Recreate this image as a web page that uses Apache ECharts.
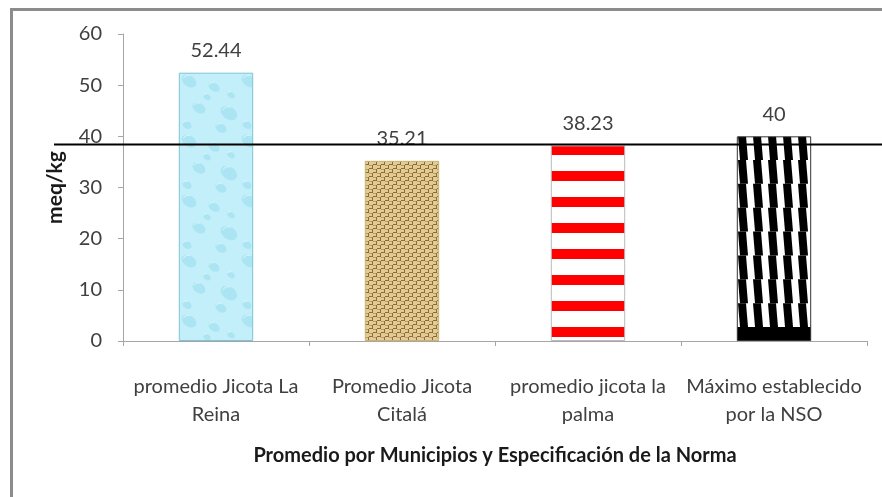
<!DOCTYPE html>
<html>
<head>
<meta charset="utf-8">
<script src="https://cdn.jsdelivr.net/npm/echarts@6/dist/echarts.min.js"></script>
<style>
html,body{margin:0;padding:0;background:#fff;}
#chart{width:882px;height:497px;}
</style>
</head>
<body>
<div id="chart"></div>
<script>
// ---- data ----
var categories = ['promedio Jicota La\nReina', 'Promedio Jicota\nCitalá', 'promedio jicota la\npalma', 'Máximo establecido\npor la NSO'];
var values = [52.44, 35.21, 38.23, 40];
var valueLabels = ['52.44', '35.21', '38.23', '40'];
var yTicks = [0, 10, 20, 30, 40, 50, 60];
var referenceLineValue = 38.4; // hand-drawn horizontal line in the original
var xTitle = 'Promedio por Municipios y Especificación de la Norma';
var yTitle = 'meq/kg';

// ---- patterns ----
function makeCanvas(w, h) { var c = document.createElement('canvas'); c.width = w; c.height = h; return c; }

function waterPattern() {
  var c = makeCanvas(60, 60), g = c.getContext('2d');
  g.fillStyle = '#c2eff9'; g.fillRect(0, 0, 60, 60);
  var blobs = [[10,8,8],[35,14,6],[50,40,9],[20,35,7],[8,52,5],[42,55,6],[28,24,4],[52,22,4]];
  blobs.forEach(function (b) {
    g.fillStyle = 'rgba(120,205,228,0.30)';
    g.beginPath(); g.ellipse(b[0], b[1], b[2], b[2] * 0.7, 0.6, 0, Math.PI * 2); g.fill();
    g.strokeStyle = 'rgba(235,252,255,0.7)'; g.lineWidth = 1;
    g.beginPath(); g.arc(b[0] - 1, b[1] - 1, b[2] * 0.6, 3.5, 5.2); g.stroke();
  });
  return c;
}
function wovenPattern() {
  var c = makeCanvas(8, 8), g = c.getContext('2d');
  g.fillStyle = '#e2cc92'; g.fillRect(0, 0, 8, 8);
  g.fillStyle = '#8a6a38';
  g.fillRect(0, 3, 4, 1); g.fillRect(4, 7, 4, 1);
  g.fillRect(3, 0, 1, 4); g.fillRect(7, 4, 1, 4);
  g.fillStyle = '#bb9c5e';
  g.fillRect(0, 0, 3, 1); g.fillRect(4, 4, 3, 1);
  return c;
}
function stripePattern() {
  var c = makeCanvas(10, 26), g = c.getContext('2d');
  g.fillStyle = '#ffffff'; g.fillRect(0, 0, 10, 26);
  g.fillStyle = '#ff0000'; g.fillRect(0, 0, 10, 10);
  return c;
}
// zigzag tile as tall as the bar: 8 rows of slanted stripes + a solid black base band
function zigzagPattern(barH) {
  var h = Math.max(30, Math.ceil(barH) + 2);
  var band = 14, rows = 8, rowH = (h - 2 - band) / rows;
  var c = makeCanvas(15, h), g = c.getContext('2d');
  g.fillStyle = '#ffffff'; g.fillRect(0, 0, 15, h);
  g.fillStyle = '#000000';
  for (var r = 0; r < rows; r++) {
    var y0 = r * rowH, y1 = (r + 1) * rowH;
    [-15, 0, 15].forEach(function (o) {
      g.beginPath(); g.moveTo(o + 1, y0); g.lineTo(o + 9, y0); g.lineTo(o + 11, y1); g.lineTo(o + 3, y1); g.closePath(); g.fill();
    });
  }
  g.fillRect(0, rows * rowH, 15, h - rows * rowH);
  return c;
}

var borders = ['#7fc4d6', '#c9b27a', '#bbbbbb', '#333333'];
var fontFam = 'Lato, "Open Sans", sans-serif';
var barWidthRatio = 0.4;

var chart = echarts.init(document.getElementById('chart'));
function buildData(tiles, offsets, repeats) {
  return values.map(function (v, i) {
    var pat = { image: tiles[i], repeat: repeats ? repeats[i] : 'repeat' };
    if (offsets) { pat.x = offsets[i][0]; pat.y = offsets[i][1]; }
    return { value: v, itemStyle: { color: pat, borderColor: borders[i], borderWidth: 1 } };
  });
}
var option = {
  backgroundColor: '#ffffff',
  animation: false,
  grid: { left: 123, right: 15, top: 34, bottom: 156 },
  xAxis: {
    type: 'category',
    data: categories,
    name: xTitle,
    nameLocation: 'middle',
    nameGap: 105,
    nameTextStyle: { fontFamily: fontFam, fontWeight: 'bold', fontSize: 20, color: '#1a1a1a' },
    axisLine: { lineStyle: { color: '#a6a6a6', width: 1 } },
    axisTick: { show: true, length: 5, lineStyle: { color: '#a6a6a6' } },
    axisLabel: { interval: 0, fontFamily: fontFam, fontSize: 20, color: '#404040', lineHeight: 28, margin: 32 }
  },
  yAxis: {
    type: 'value',
    min: 0, max: 60, interval: 10,
    name: yTitle,
    nameLocation: 'middle',
    nameGap: 57,
    nameTextStyle: { fontFamily: fontFam, fontWeight: 'bold', fontSize: 21, color: '#1a1a1a' },
    axisLine: { show: true, lineStyle: { color: '#a6a6a6' } },
    axisTick: { show: true, length: 5, lineStyle: { color: '#a6a6a6' } },
    axisLabel: { fontFamily: fontFam, fontSize: 20, color: '#404040', margin: 21,
      formatter: function (v) { return yTicks.indexOf(v) >= 0 ? String(v) : ''; } },
    splitLine: { show: false }
  },
  series: [{
    type: 'bar',
    barWidth: (barWidthRatio * 100) + '%',
    data: buildData([waterPattern(), wovenPattern(), stripePattern(), zigzagPattern(30)], null, null),
    label: {
      show: true, position: 'top', distance: 12,
      fontFamily: fontFam, fontSize: 20, color: '#404040',
      formatter: function (p) { return valueLabels[p.dataIndex]; }
    }
  }]
};
chart.setOption(option);

// align each pattern with its bar's top-left corner
var bandW = chart.convertToPixel({ xAxisIndex: 0 }, 1) - chart.convertToPixel({ xAxisIndex: 0 }, 0);
var y0px = chart.convertToPixel({ yAxisIndex: 0 }, 0);
var offsets = values.map(function (v, i) {
  var cx = chart.convertToPixel({ xAxisIndex: 0 }, i);
  var top = chart.convertToPixel({ yAxisIndex: 0 }, v);
  return [Math.round(cx - bandW * barWidthRatio / 2), Math.round(top)];
});
var bar4H = y0px - chart.convertToPixel({ yAxisIndex: 0 }, values[3]);
var tiles = [waterPattern(), wovenPattern(), stripePattern(), zigzagPattern(bar4H)];
var yLine = chart.convertToPixel({ yAxisIndex: 0 }, referenceLineValue);
chart.setOption({
  series: [{ data: buildData(tiles, offsets, ['repeat', 'repeat', 'repeat', 'repeat-x']) }],
  graphic: [
    { type: 'rect', left: 9, top: 7, z: 100, silent: true,
      shape: { x: 0, y: 0, width: 900, height: 520 },
      style: { fill: 'none', stroke: '#8c8c8c', lineWidth: 3 } },
    { type: 'line', z: 100, silent: true,
      shape: { x1: 54, y1: yLine, x2: 882, y2: yLine },
      style: { stroke: '#000000', lineWidth: 2 } }
  ]
});
</script>
</body>
</html>
